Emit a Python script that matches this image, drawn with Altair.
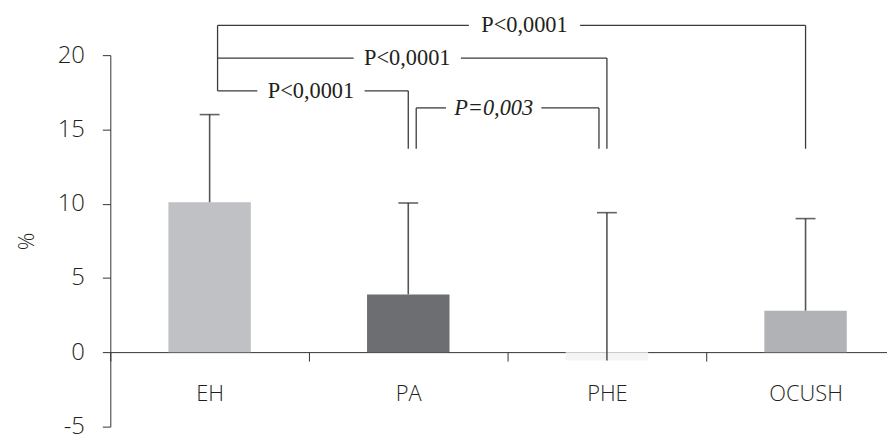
import altair as alt
import pandas as pd

# ---- data ----
categories = ["EH", "PA", "PHE", "OCUSH"]
means = [10.1, 3.9, -0.55, 2.8]
upper = [16.0, 10.05, 9.4, 9.0]
bar_colors = ["#c0c1c5", "#6d6e72", "#f4f4f4", "#b1b2b6"]

# significance brackets (x in category-index units, y in %)
br_left = [0.04, 0.04, 0.04, 1.04]
br_right = [3.0, 2.0, 1.0, 1.96]
br_level = [22.0, 19.8, 17.6, 16.45]
br_label = ["P<0,0001", "P<0,0001", "P<0,0001", "P=0,003"]
br_label_x = [1.585, 0.995, 0.51, 1.43]
br_gap = [0.28, 0.27, 0.27, 0.24]
br_italic = [False, False, False, True]
br_left_leg = [False, False, False, True]
leg_bottom = 13.7

# ---- tables ----
bars = pd.DataFrame({"cat": categories, "mean": means, "upper": upper, "color": bar_colors})

segs = []
for i in range(len(br_label)):
    segs.append({"x": br_left[i], "x2": br_label_x[i] - br_gap[i], "y": br_level[i], "y2": br_level[i]})
    segs.append({"x": br_label_x[i] + br_gap[i], "x2": br_right[i], "y": br_level[i], "y2": br_level[i]})
    segs.append({"x": br_right[i], "x2": br_right[i], "y": br_level[i], "y2": leg_bottom})
    if br_left_leg[i]:
        segs.append({"x": br_left[i], "x2": br_left[i], "y": br_level[i], "y2": leg_bottom})
shared = [i for i in range(len(br_label)) if not br_left_leg[i]]
segs.append({"x": br_left[shared[0]], "x2": br_left[shared[0]],
             "y": max(br_level[i] for i in shared), "y2": min(br_level[i] for i in shared)})
segs = pd.DataFrame(segs)
labels = pd.DataFrame({"x": br_label_x, "y": br_level, "text": br_label, "italic": br_italic})

W, H = 782, 374
FONT = "Open Sans"
INK = "#231f20"

xscale = alt.Scale(domain=categories, range=[0, 800], paddingInner=0, paddingOuter=0)
yscale = alt.Scale(domain=[-5, 20], nice=False, zero=False)

x_axis = alt.Axis(title=None, offset=-75, tickBand="extent", tickSize=9, labelPadding=23,
                  labelFontSize=22, labelFont=FONT, labelFontWeight=300, labelColor=INK, labelAngle=0,
                  domainColor="#333333", tickColor="#333333", grid=False)
y_axis = alt.Axis(values=[-5, 0, 5, 10, 15, 20], labelExpr="'' + datum.value", tickSize=8,
                  labelPadding=18, labelFontSize=24, labelFont=FONT, labelFontWeight=300, labelColor=INK,
                  title="%", titleFontSize=22, titleFont=FONT, titleColor=INK,
                  titleFontWeight=300, titlePadding=19,
                  domainColor="#333333", tickColor="#333333", grid=False)

bar_layer = alt.Chart(bars).mark_bar(size=83).encode(
    x=alt.X("cat:N", sort=categories, scale=xscale, axis=x_axis),
    y=alt.Y("mean:Q", scale=yscale, axis=y_axis),
    color=alt.Color("color:N", scale=None),
)
err_layer = alt.Chart(bars).mark_rule(color="#555555", strokeWidth=1.6).encode(
    x=alt.X("cat:N", sort=categories, scale=xscale),
    y=alt.Y("mean:Q", scale=yscale),
    y2="upper:Q",
)
cap_layer = alt.Chart(bars).mark_tick(color="#222222", thickness=1.6, size=20).encode(
    x=alt.X("cat:N", sort=categories, scale=xscale),
    y=alt.Y("upper:Q", scale=yscale),
)
base = alt.layer(bar_layer, err_layer, cap_layer)

qx = alt.Scale(domain=[-0.5, 3.5], range=[0, 800], nice=False, zero=False)
seg_layer = alt.Chart(segs).mark_rule(color="#3a3a3a", strokeWidth=1.3).encode(
    x=alt.X("x:Q", scale=qx, axis=None),
    x2="x2:Q",
    y=alt.Y("y:Q", scale=yscale),
    y2="y2:Q",
)
txt_normal = alt.Chart(labels[~labels["italic"]]).mark_text(
    font="Liberation Serif", fontSize=22.5, color=INK, baseline="middle", align="center"
).encode(x=alt.X("x:Q", scale=qx, axis=None), y=alt.Y("y:Q", scale=yscale), text="text:N")
txt_italic = alt.Chart(labels[labels["italic"]]).mark_text(
    font="Liberation Serif", fontSize=22.5, fontStyle="italic", color=INK, baseline="middle", align="center"
).encode(x=alt.X("x:Q", scale=qx, axis=None), y=alt.Y("y:Q", scale=yscale), text="text:N")
brackets = alt.layer(seg_layer, txt_normal, txt_italic)

chart = alt.layer(base, brackets).resolve_scale(x="independent").properties(
    width=W, height=H,
    autosize=alt.AutoSizeParams(type="none"),
    padding={"left": 103, "top": 46, "right": 0, "bottom": 12},
).configure_view(stroke=None)

chart.save("out.html", embed_options={"renderer": "svg", "actions": False})
